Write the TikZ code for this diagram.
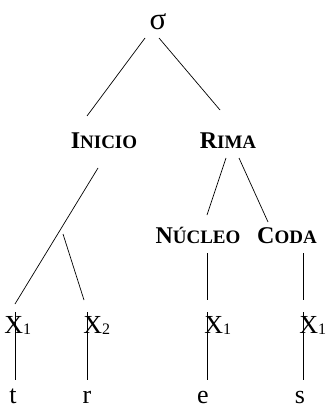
\documentclass[tikz,border=0pt]{standalone}
\usepackage{fontspec}
\setmainfont{Liberation Serif}

% fake small capitals: big first letter, smaller rest
\newcommand{\fakesc}[2]{\textbf{\fontsize{24}{28}\selectfont #1\fontsize{19}{22}\selectfont #2}}
% timing slot with its index
\newcommand{\slotx}[1]{X\raisebox{-1.5pt}{\fontsize{16}{18}\selectfont #1}}

\begin{document}
\begin{tikzpicture}[x=1pt,y=-1pt,line width=0.7pt,
        lbl/.style={inner sep=0pt,font=\fontsize{26}{30}\selectfont}]
        \useasboundingbox (0,0) rectangle (325,406);

        % draw the syllable and its parts
        \node[lbl,anchor=base,font=\fontsize{31}{34}\selectfont] (sigma) at (158,30) {σ};
        \node[lbl,anchor=base] (inicio) at (104,149) {\fakesc{I}{NICIO}};
        \node[lbl,anchor=base] (rima) at (228,149) {\fakesc{R}{IMA}};
        \node[lbl,anchor=base] (nucleo) at (198,243) {\fakesc{N}{ÚCLEO}};
        \node[lbl,anchor=base] (coda) at (287,243) {\fakesc{C}{ODA}};

        % draw the timing slots
        \node[lbl,anchor=base west] (xa) at (4,333) {\slotx{1}};
        \node[lbl,anchor=base west] (xb) at (83,333) {\slotx{2}};
        \node[lbl,anchor=base west] (xc) at (204,333) {\slotx{1}};
        \node[lbl,anchor=base west] (xd) at (299,333) {\slotx{1}};

        % draw the segments
        \foreach \n/\x/\t in {lt/13/t, lr/87/r, le/203/e, ls/300/s}
                \node[lbl,anchor=base] (\n) at (\x,403) {\t};

        % lines from the syllable down
        \draw ([shift={(-13,8)}]sigma.base) -- ([shift={(-17,-33)}]inicio.base);
        \draw ([shift={(1,8)}]sigma.base) -- ([shift={(-8,-39)}]rima.base);
        \draw ([shift={(-2,9)}]rima.base) -- ([shift={(9,-28)}]nucleo.base);
        \draw ([shift={(11,9)}]rima.base) -- ([shift={(-19,-21)}]coda.base);

        % onset branches
        \coordinate (split) at (63,234);
        \draw ([shift={(-6,19)}]inicio.base) -- ([shift={(11,-29)}]xa.base west);
        \draw (split) -- ([shift={(1,-33)}]xb.base west);

        % nucleus and coda slots
        \draw ([shift={(9,10)}]nucleo.base) -- ([shift={(3,-33)}]xc.base west);
        \draw ([shift={(16,10)}]coda.base) -- ([shift={(4,-33)}]xd.base west);

        % slots to segments
        \foreach \s/\l/\d in {xa/lt/11, xb/lr/4, xc/le/3, xd/ls/4} {
                \coordinate (top) at ([shift={(\d,-21)}]\s.base west);
                \coordinate (bot) at ([shift={(0,-23)}]\l.base);
                \draw (top) -- (top |- bot);
        }
\end{tikzpicture}
\end{document}
